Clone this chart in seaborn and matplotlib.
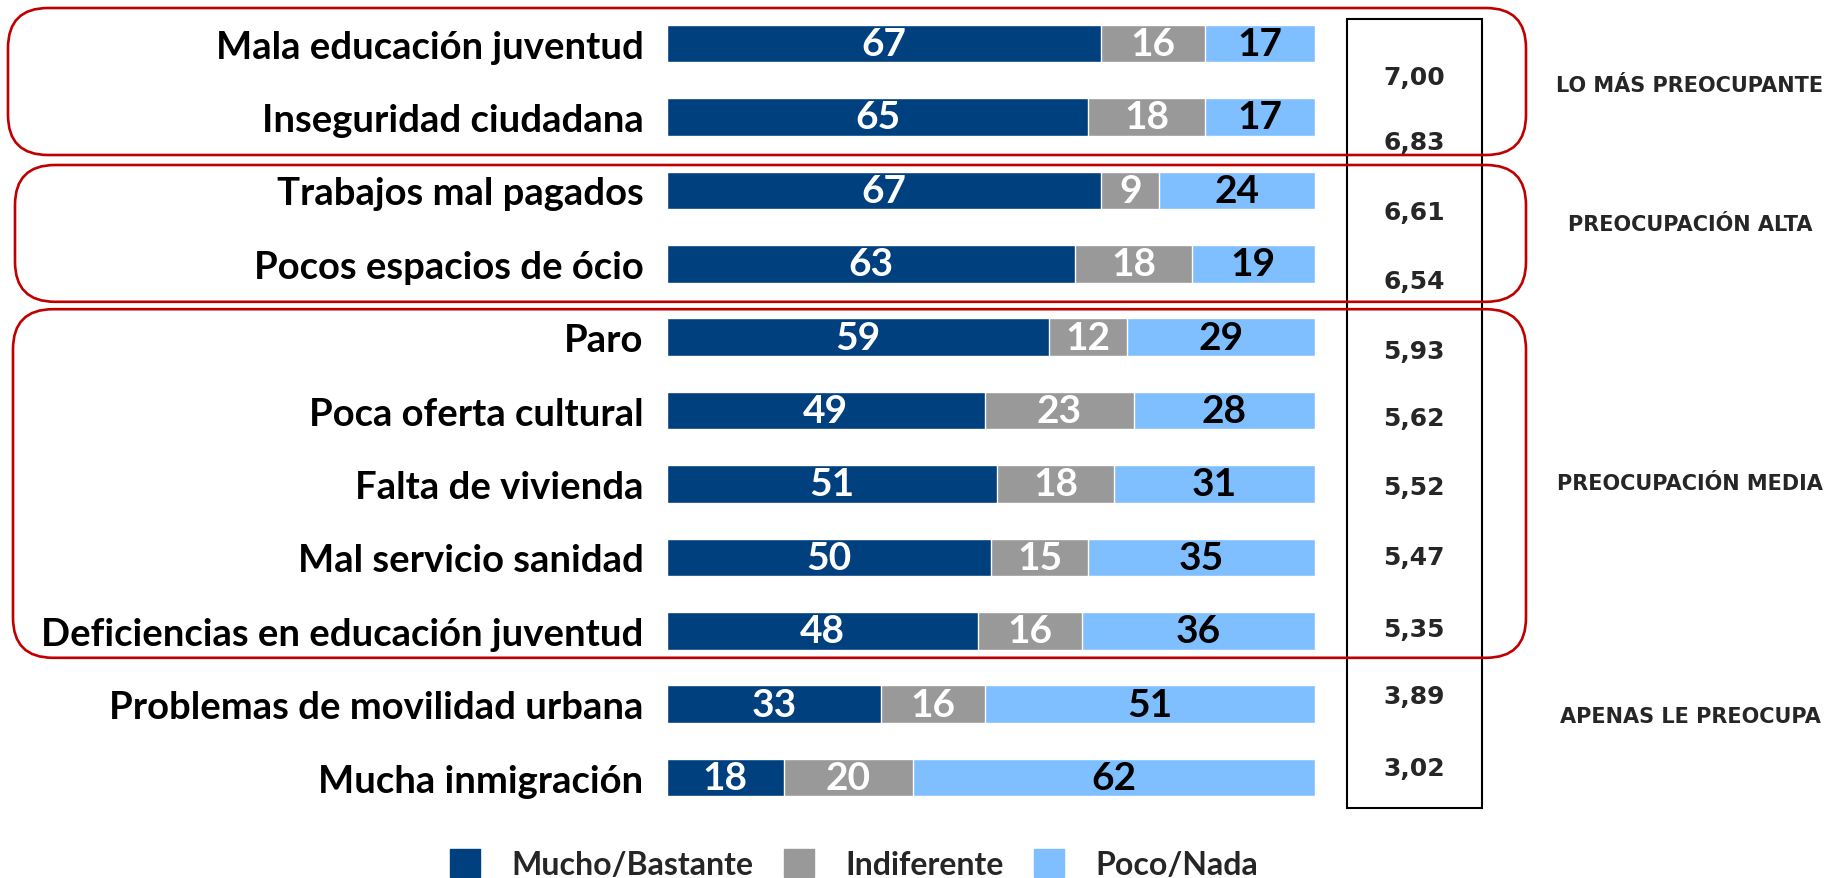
import numpy as np
import pandas as pd
import matplotlib
matplotlib.use("Agg")
import matplotlib.pyplot as plt
from matplotlib.patches import FancyBboxPatch, Rectangle, Patch
import seaborn as sns

categories = [
    "Mala educación juventud", "Inseguridad ciudadana", "Trabajos mal pagados",
    "Pocos espacios de ócio", "Paro", "Poca oferta cultural", "Falta de vivienda",
    "Mal servicio sanidad", "Deficiencias en educación juventud",
    "Problemas de movilidad urbana", "Mucha inmigración",
]
mucho = [67, 65, 67, 63, 59, 49, 51, 50, 48, 33, 18]
indif = [16, 18, 9, 18, 12, 23, 18, 15, 16, 16, 20]
poco = [17, 17, 24, 19, 29, 28, 31, 35, 36, 51, 62]
scores = [7.00, 6.83, 6.61, 6.54, 5.93, 5.62, 5.52, 5.47, 5.35, 3.89, 3.02]
series_names = ["Mucho/Bastante", "Indiferente", "Poco/Nada"]
groups = ["LO MÁS PREOCUPANTE", "PREOCUPACIÓN ALTA", "PREOCUPACIÓN MEDIA", "APENAS LE PREOCUPA"]

DARK, GREY, LIGHT, RED = "#00407f", "#999999", "#80bfff", "#c00000"

# layout in pixels (figure is 1841 x 879 at dpi 100)
W, H = 1841, 879
ROW0, STEP = 44.6, 73.4
score_shift = [0.46, 0.34, 0.29, 0.23, 0.19, 0.10, 0.04, 0.0, -0.02, -0.11, -0.13]
group_y = [86, 225, 484, 717]

df = pd.DataFrame({"cat": categories, "mucho": mucho, "indif": indif, "poco": poco})
df["mi"] = df["mucho"] + df["indif"]
df["total"] = df["mi"] + df["poco"]

sns.set_style("white")
plt.rcParams["font.family"] = ["Lato", "DejaVu Sans"]

fig = plt.figure(figsize=(W / 100, H / 100), dpi=100)
ax = fig.add_axes([667 / W, 1 - (ROW0 + STEP * 10.5) / H, 648 / W, STEP * 11 / H])

# stacked bars: draw cumulative totals back to front
for col, colr in [("total", LIGHT), ("mi", GREY), ("mucho", DARK)]:
    sns.barplot(data=df, x=col, y="cat", orient="h", color=colr, saturation=1,
                width=0.51, ax=ax)

ax.set_xlim(0, 100)
ax.set_ylim(10.5, -0.5)
ax.set_xlabel("")
ax.set_ylabel("")
ax.set_xticks([])
sns.despine(ax=ax, left=True, bottom=True)
ax.tick_params(axis="y", length=0, pad=17)
for lab in ax.get_yticklabels():
    lab.set_fontsize(27.5)
    lab.set_fontweight("bold")
    lab.set_color("black")

# segment values
for i, r in df.iterrows():
    for start, val, tc in [(0, r["mucho"], "white"), (r["mucho"], r["indif"], "white"),
                           (r["mi"], r["poco"], "black")]:
        ax.text(start + val / 2, i, f"{val}", ha="center", va="center",
                color=tc, fontsize=28, fontweight="bold")

# overlay in pixel coordinates for boxes and side texts
ov = fig.add_axes([0, 0, 1, 1], facecolor="none")
ov.set_xlim(0, W)
ov.set_ylim(H, 0)
ov.axis("off")


def row_px(r):
    return ROW0 + STEP * r


ov.add_patch(Rectangle((1347, 20), 135, 789, fill=False, ec="black", lw=1.5))
for i, s in enumerate(scores):
    ov.text(1414, row_px(i + score_shift[i]), f"{s:.2f}".replace(".", ","),
            ha="center", va="center", fontsize=18, fontweight="bold",
            family="DejaVu Sans")

red_boxes = [(8, row_px(0) - 35.6, row_px(1) + 38), (15, row_px(2) - 25.4, row_px(3) + 38),
             (13, row_px(4) - 28, row_px(8) + 27)]
for x0, y0, y1 in red_boxes:
    ov.add_patch(FancyBboxPatch((x0, y0), 1526 - x0, y1 - y0,
                                boxstyle="round,pad=0,rounding_size=40",
                                fill=False, ec=RED, lw=1.9))

for g, gy in zip(groups, group_y):
    ov.text(1690, gy, g, ha="center", va="center", fontsize=15, fontweight="bold",
            family="DejaVu Sans")

handles = [Patch(color=c) for c in (DARK, GREY, LIGHT)]
fig.legend(handles, series_names, loc="center", bbox_to_anchor=(854 / W, 1 - 865 / H),
           ncol=3, frameon=False, prop={"weight": "bold", "size": 23},
           handlelength=0.95, handleheight=1.0, handletextpad=0.97, columnspacing=0.95)

fig.savefig("out.png", dpi=100)
